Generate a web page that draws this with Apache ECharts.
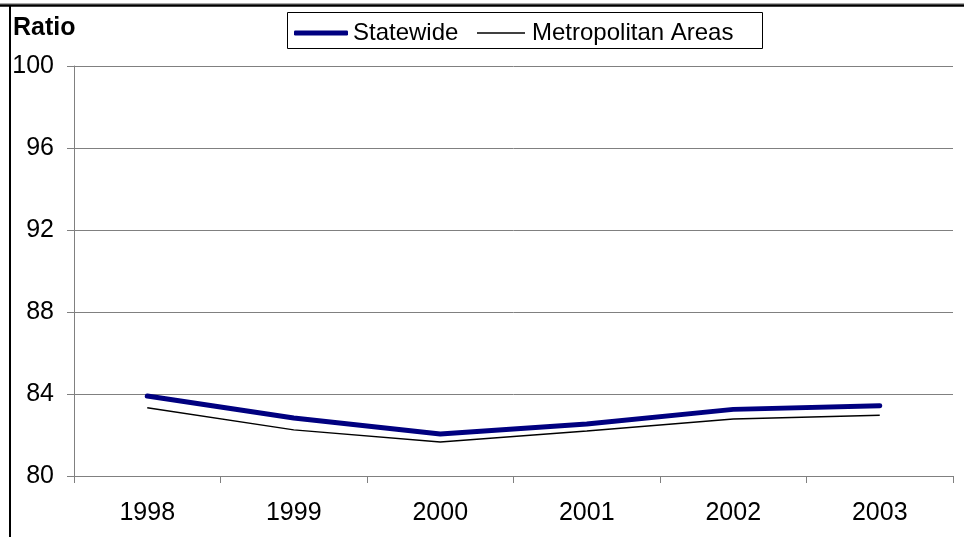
<!DOCTYPE html>
<html><head><meta charset="utf-8">
<script src="https://cdn.jsdelivr.net/npm/echarts@6/dist/echarts.min.js"></script>
<style>html,body{margin:0;padding:0;background:#fff}#c{width:964px;height:537px}</style>
</head><body><div id="c"></div>
<script>
var years = ['1998','1999','2000','2001','2002','2003'];
var statewide = [83.9, 82.83, 82.05, 82.54, 83.25, 83.43];
var metro = [83.33, 82.25, 81.66, 82.2, 82.78, 82.96];
var yTicks = {min: 80, max: 100, interval: 4};
var font = 'Arial, "Liberation Sans", sans-serif';
var chart = echarts.init(document.getElementById('c'), null, {renderer: 'canvas'});
chart.setOption({
  animation: false,
  backgroundColor: '#fff',
  grid: {left: 74, right: 11, top: 66, bottom: 61, containLabel: false},
  graphic: [
    {type: 'line', shape: {x1: 0, y1: 3.5, x2: 964, y2: 3.5}, style: {stroke: '#aaa', lineWidth: 1}},
    {type: 'line', shape: {x1: 0, y1: 5.5, x2: 964, y2: 5.5}, style: {stroke: '#000', lineWidth: 2.5}},
    {type: 'line', shape: {x1: 10, y1: 5, x2: 10, y2: 537}, style: {stroke: '#000', lineWidth: 2}},
    {type: 'text', left: 13, top: 16, style: {text: 'Ratio', font: 'bold 25px ' + font, fill: '#000'}},
    {type: 'rect', shape: {x: 287.5, y: 12.5, width: 475, height: 36}, style: {fill: '#fff', stroke: '#000', lineWidth: 1}, z: -1}
  ],
  legend: [
    {data: [{name: 'Statewide', icon: 'roundRect'}], left: 289, top: 16, itemWidth: 54, itemHeight: 5, itemGap: 4,
     textStyle: {fontSize: 24, fontFamily: font, color: '#000', padding: [0, 0, 0, 0]}},
    {data: [{name: 'Metropolitan Areas', icon: 'rect'}], left: 472, top: 16, itemWidth: 48, itemHeight: 1.5,
     textStyle: {fontSize: 24, fontFamily: font, color: '#000', padding: [0, 0, 0, 2]}}
  ],
  xAxis: {
    type: 'category', data: years, boundaryGap: true,
    axisLine: {lineStyle: {color: '#808080', width: 1}},
    axisTick: {show: true, length: 7, lineStyle: {color: '#808080'}},
    axisLabel: {fontSize: 25, fontFamily: font, color: '#000', margin: 25},
    splitLine: {show: false}
  },
  yAxis: {
    type: 'value', min: yTicks.min, max: yTicks.max, interval: yTicks.interval,
    axisLine: {show: true, lineStyle: {color: '#808080', width: 1}},
    axisTick: {show: true, length: 7, lineStyle: {color: '#808080'}},
    axisLabel: {fontSize: 25, fontFamily: font, color: '#000', margin: 20},
    splitLine: {show: true, lineStyle: {color: '#808080', width: 1}}
  },
  series: [
    {name: 'Statewide', type: 'line', data: statewide, symbol: 'none', color: '#000080',
     lineStyle: {width: 5, color: '#000080', cap: 'round'}, z: 3},
    {name: 'Metropolitan Areas', type: 'line', data: metro, symbol: 'none', color: '#000',
     lineStyle: {width: 1.5, color: '#000'}, z: 2}
  ]
});
</script></body></html>
